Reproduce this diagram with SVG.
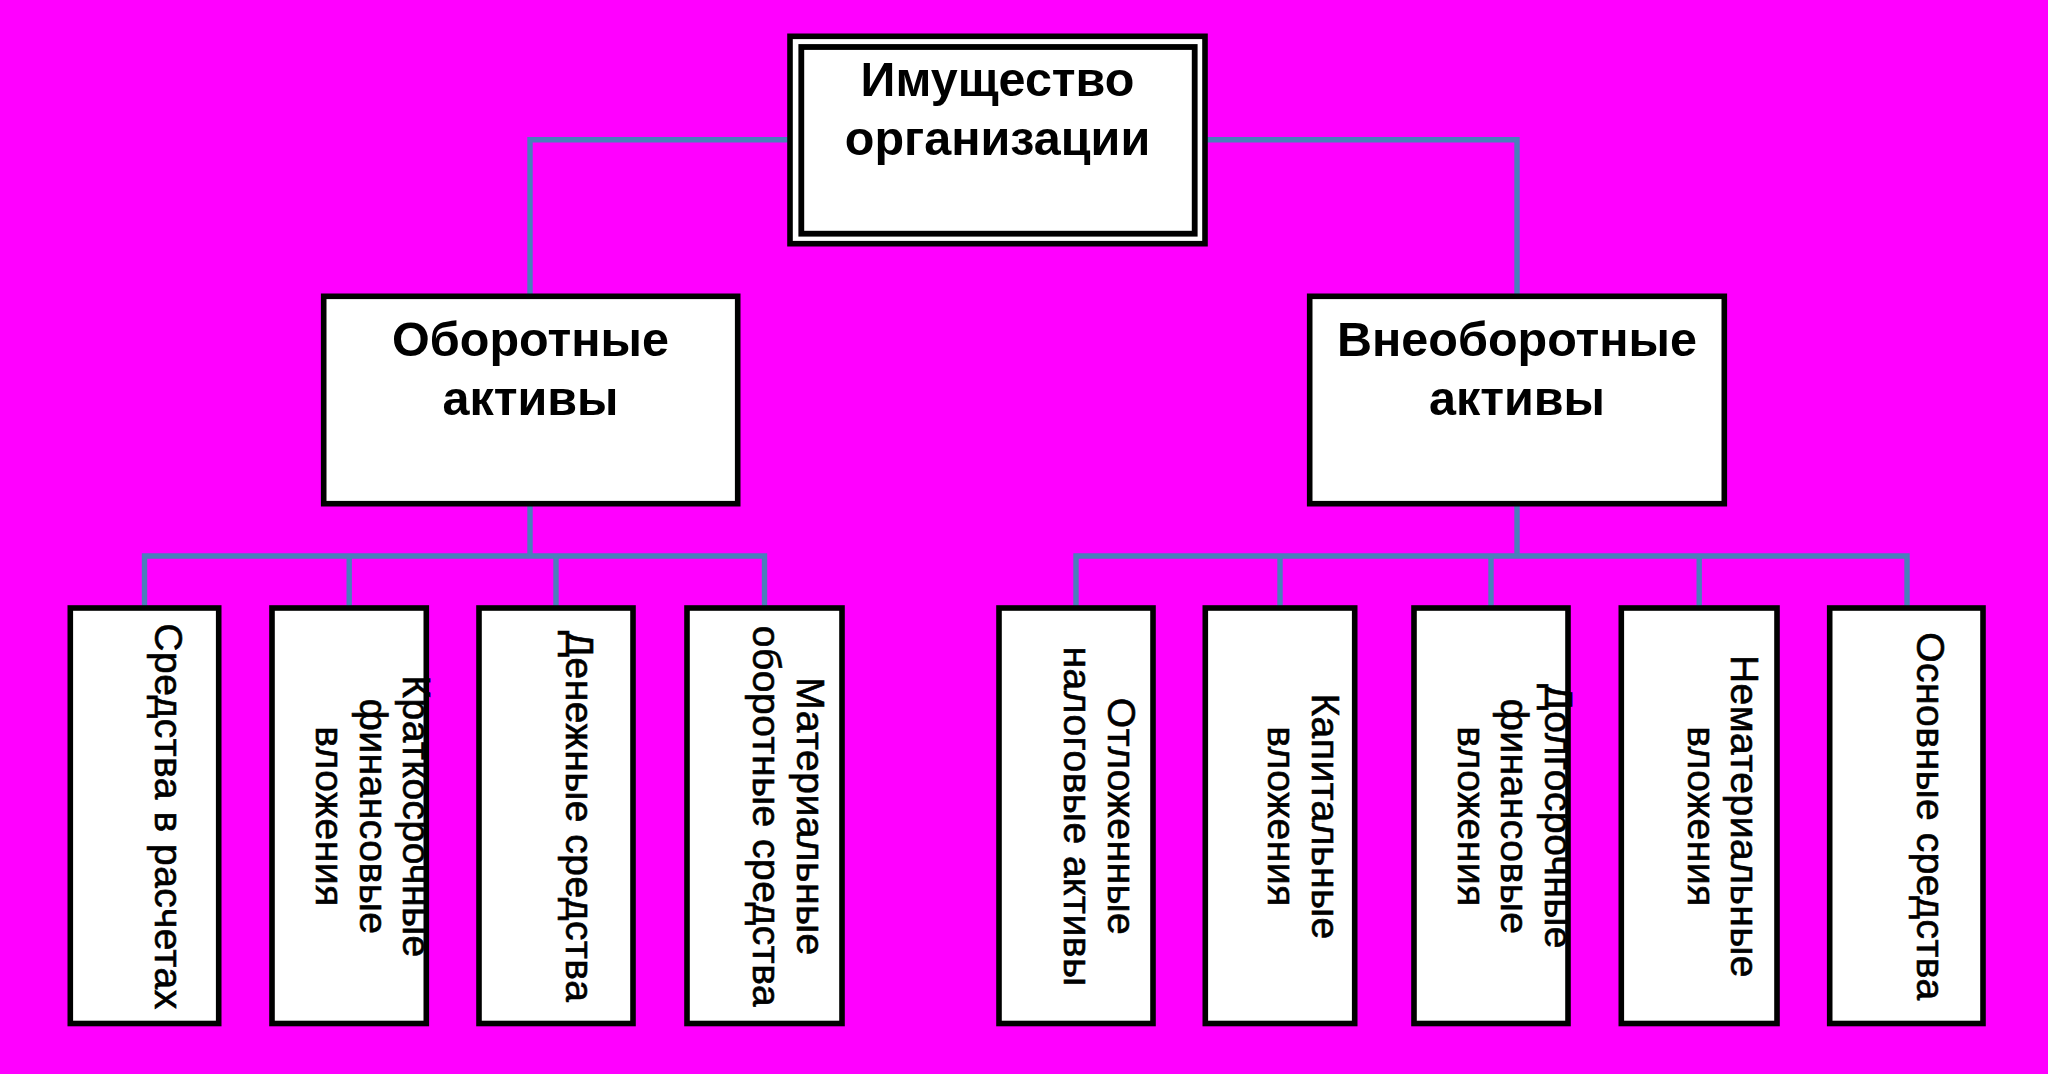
<svg xmlns="http://www.w3.org/2000/svg" width="2048" height="1074" viewBox="0 0 2048 1074">
<style>
.box{fill:#ffffff;stroke:#000000;stroke-width:5.6}
.inner{fill:none;stroke:#000000;stroke-width:5.8}
.conn{fill:none;stroke:#4a7ebb;stroke-width:5.4;stroke-linejoin:miter;stroke-linecap:butt}
.h{font-family:"Liberation Sans",Arial,sans-serif;font-weight:bold;font-size:48.5px;fill:#000000;text-anchor:middle}
.v{font-family:"Liberation Sans",Arial,sans-serif;font-size:39px;letter-spacing:0.5px;fill:#000000;stroke:#000000;stroke-width:0.6;text-anchor:middle}
</style>
<rect x="0" y="0" width="2048" height="1074" fill="#ff00ff"/>
<g id="connectors">
<path class="conn" d="M530,296.3 V139.7 H790"/>
<path class="conn" d="M1205,139.7 H1517 V296.3"/>
<path class="conn" d="M530,503.7 V556"/>
<path class="conn" d="M144.5,608 V556 H764.5 V608"/>
<path class="conn" d="M349.2,556 V608"/>
<path class="conn" d="M556,556 V608"/>
<path class="conn" d="M1517,503.7 V556"/>
<path class="conn" d="M1076,608 V556 H1907 V608"/>
<path class="conn" d="M1280,556 V608"/>
<path class="conn" d="M1491,556 V608"/>
<path class="conn" d="M1699.2,556 V608"/>
</g>
<g id="root">
<rect class="box" x="790" y="36.3" width="415" height="207.4"/>
<rect class="inner" x="801.3" y="47" width="393.4" height="186.7"/>
<text class="h"><tspan x="997.5" y="96">Имущество</tspan><tspan x="997.5" y="155">организации</tspan></text>
</g>
<g id="current">
<rect class="box" x="323.7" y="296.3" width="414" height="207.4"/>
<text class="h"><tspan x="530.5" y="356">Оборотные</tspan><tspan x="530.5" y="415">активы</tspan></text>
</g>
<g id="noncurrent">
<rect class="box" x="1309.7" y="296.3" width="414.6" height="207.4"/>
<text class="h"><tspan x="1517" y="356">Внеоборотные</tspan><tspan x="1517" y="415">активы</tspan></text>
</g>
<g id="b1">
<rect class="box" x="70.3" y="608" width="148.4" height="415.5"/>
<text class="v" transform="translate(154.8,816.5) rotate(90)"><tspan x="0" y="0">Средства в расчетах</tspan></text>
</g>
<g id="b2">
<rect class="box" x="272" y="608" width="154.3" height="415.5"/>
<text class="v" transform="translate(403.3,816.5) rotate(90)"><tspan x="0" y="0">Краткосрочные</tspan><tspan x="0" dy="43.8">финансовые</tspan><tspan x="0" dy="43.8">вложения</tspan></text>
</g>
<g id="b3">
<rect class="box" x="479" y="608" width="154" height="415.5"/>
<text class="v" transform="translate(566.3,816.5) rotate(90)"><tspan x="0" y="0">Денежные средства</tspan></text>
</g>
<g id="b4">
<rect class="box" x="687" y="608" width="155" height="415.5"/>
<text class="v" transform="translate(796.7,816.5) rotate(90)"><tspan x="0" y="0">Материальные</tspan><tspan x="0" dy="43.8">оборотные средства</tspan></text>
</g>
<g id="r1">
<rect class="box" x="999" y="608" width="154" height="415.5"/>
<text class="v" transform="translate(1108.2,816.5) rotate(90)"><tspan x="0" y="0">Отложенные</tspan><tspan x="0" dy="43.8">налоговые активы</tspan></text>
</g>
<g id="r2">
<rect class="box" x="1205.3" y="608" width="149.4" height="415.5"/>
<text class="v" transform="translate(1312.2,816.5) rotate(90)"><tspan x="0" y="0">Капитальные</tspan><tspan x="0" dy="43.8">вложения</tspan></text>
</g>
<g id="r3">
<rect class="box" x="1414" y="608" width="154" height="415.5"/>
<text class="v" transform="translate(1545.1,816.5) rotate(90)"><tspan x="0" y="0">Долгосрочные</tspan><tspan x="0" dy="43.8">финансовые</tspan><tspan x="0" dy="43.8">вложения</tspan></text>
</g>
<g id="r4">
<rect class="box" x="1621.3" y="608" width="155.7" height="415.5"/>
<text class="v" transform="translate(1731.4,816.5) rotate(90)"><tspan x="0" y="0">Нематериальные</tspan><tspan x="0" dy="43.8">вложения</tspan></text>
</g>
<g id="r5">
<rect class="box" x="1829.7" y="608" width="153.3" height="415.5"/>
<text class="v" transform="translate(1916.6,816.5) rotate(90)"><tspan x="0" y="0">Основные средства</tspan></text>
</g>
</svg>
